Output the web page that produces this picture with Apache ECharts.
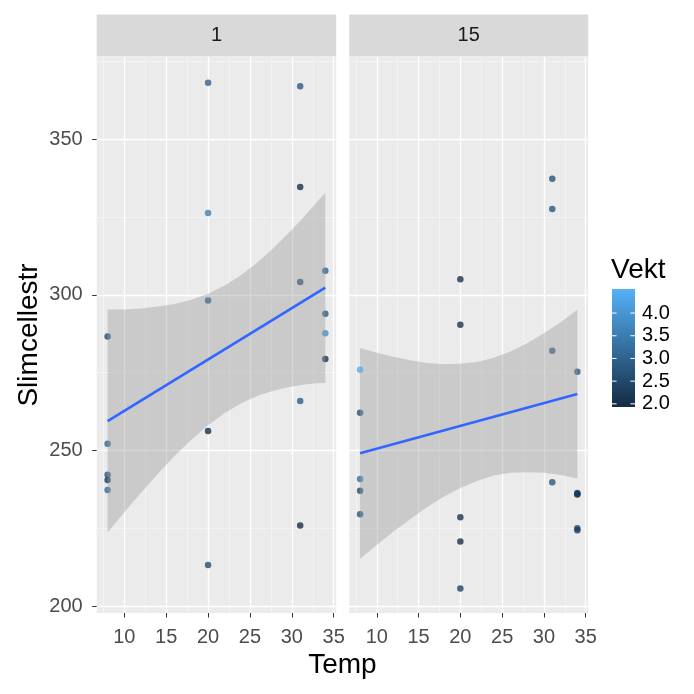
<!DOCTYPE html>
<html><head><meta charset="utf-8">
<script src="https://cdn.jsdelivr.net/npm/echarts@6/dist/echarts.min.js"></script>
<style>html,body{margin:0;padding:0;background:#fff}#c{width:694px;height:694px}</style>
</head><body><div id="c"></div>
<script>
// ---------- data ----------
const panels = ['1', '15'];
const xTicks = [10, 15, 20, 25, 30, 35];
const xMinor = [7.5, 12.5, 17.5, 22.5, 27.5, 32.5];
const yTicks = [200, 250, 300, 350];
const yMinor = [225, 275, 325, 375];
const legendBreaks = [2.0, 2.5, 3.0, 3.5, 4.0];
const legendLabels = ['2.0', '2.5', '3.0', '3.5', '4.0'];

// panel "1"
const temp1 = [8, 8, 8, 8, 8, 20, 20, 20, 20, 20, 31, 31, 31, 31, 31, 34, 34, 34, 34];
const slim1 = [286.6, 252.1, 242.2, 240.5, 237.3, 368.1, 326.3, 298.2, 256.2, 213.2, 367.0, 334.6, 304.1, 265.9, 225.9, 307.7, 293.9, 287.6, 279.4];
const vekt1 = [2.6, 3.1, 2.9, 2.2, 3.2, 3.0, 3.6, 2.7, 2.0, 2.6, 2.9, 2.05, 2.6, 2.9, 2.0, 3.0, 2.8, 3.9, 2.1];

// panel "15"
const temp2 = [8, 8, 8, 8, 8, 20, 20, 20, 20, 20, 31, 31, 31, 31, 34, 34, 34, 34, 34, 34];
const slim2 = [275.9, 262.1, 240.8, 237.0, 229.5, 305.0, 290.4, 228.5, 220.7, 205.6, 337.3, 327.6, 282.0, 239.8, 275.3, 236.3, 235.8, 236.0, 225.0, 224.3];
const vekt2 = [4.5, 2.7, 3.3, 2.6, 2.8, 2.1, 2.1, 2.1, 2.0, 2.4, 2.7, 2.8, 2.9, 2.8, 2.8, 2.2, 2.1, 2.2, 2.4, 2.3];

// fitted lines
const fitT = [8, 34];
const fit1 = [259.4, 302.3];
const fit2 = [249.05, 268.1];

// confidence ribbons
const ribbonT = [8, 10, 12, 14, 16, 18, 20, 22, 24, 26, 28, 30, 32, 34];
const rib1Upper = [295.3, 295.3, 295.6, 296.2, 297.0, 298.4, 300.3, 303.0, 306.4, 310.6, 315.5, 320.9, 326.7, 332.9];
const rib1Lower = [223.6, 230.1, 236.4, 242.5, 248.2, 253.4, 258.1, 262.0, 265.2, 267.6, 269.3, 270.5, 271.3, 271.7];
const rib2Upper = [282.9, 281.4, 280.1, 279.0, 278.1, 277.7, 277.8, 278.4, 279.8, 281.8, 284.4, 287.6, 291.2, 295.2];
const rib2Lower = [215.2, 219.6, 223.9, 227.9, 231.7, 235.1, 237.9, 240.2, 241.9, 242.8, 243.0, 242.8, 242.1, 241.0];

const vektMin = 1.93, vektMax = 4.53;
// ---------- layout ----------
const FONT = '"Liberation Sans", Arial, sans-serif';
const TXT = 20, TITLE = 28;
const G = [
  {left: 96.7, top: 57, width: 239.5, height: 556},
  {left: 349.2, top: 57, width: 239, height: 556}
];
const X_MIN = 6.7, X_MAX = 35.3, Y_MIN = 197.75, Y_MAX = 376.4;

function xMajor(i) {
  return {
    type: 'value', gridIndex: i, min: X_MIN, max: X_MAX, position: 'bottom',
    axisLine: {show: false},
    axisTick: {show: true, customValues: xTicks, length: 4.5, lineStyle: {color: '#333333', width: 1}},
    axisLabel: {show: true, customValues: xTicks, margin: 14, color: '#4D4D4D', fontSize: TXT, fontFamily: FONT},
    splitLine: {show: true, lineStyle: {color: '#FFFFFF', width: 1.3}}
  };
}
function xMinorAxis(i) {
  return {
    type: 'value', gridIndex: i, min: X_MIN, max: X_MAX, position: 'top',
    axisLine: {show: false},
    axisTick: {show: false, customValues: xMinor},
    axisLabel: {show: false, customValues: xMinor},
    splitLine: {show: true, lineStyle: {color: '#F7F7F7', width: 0.7}}
  };
}
function yMajor(i) {
  return {
    type: 'value', gridIndex: i, min: Y_MIN, max: Y_MAX, position: 'left',
    axisLine: {show: false},
    axisTick: {show: i === 0, customValues: yTicks, length: 4.5, lineStyle: {color: '#333333', width: 1}},
    axisLabel: {show: i === 0, customValues: yTicks, margin: 14, color: '#4D4D4D', fontSize: TXT, fontFamily: FONT},
    splitLine: {show: true, lineStyle: {color: '#FFFFFF', width: 1.3}},
    name: i === 0 ? 'Slimcellestr' : '',
    nameLocation: 'middle', nameGap: 53,
    nameTextStyle: {color: '#000000', fontSize: TITLE, fontFamily: FONT}
  };
}
function yMinorAxis(i) {
  return {
    type: 'value', gridIndex: i, min: Y_MIN, max: Y_MAX, position: 'right',
    axisLine: {show: false},
    axisTick: {show: false, customValues: yMinor},
    axisLabel: {show: false, customValues: yMinor},
    splitLine: {show: true, lineStyle: {color: '#F7F7F7', width: 0.7}}
  };
}

function ribbonRender(upper, lower) {
  return function (params, api) {
    if (params.dataIndex !== 0) return;
    const pts = [];
    for (let i = 0; i < ribbonT.length; i++) pts.push(api.coord([ribbonT[i], upper[i]]));
    for (let i = ribbonT.length - 1; i >= 0; i--) pts.push(api.coord([ribbonT[i], lower[i]]));
    return {type: 'polygon', shape: {points: pts}, style: {fill: 'rgba(153,153,153,0.4)'}};
  };
}

const pts1 = temp1.map((t, i) => [t, slim1[i], vekt1[i]]);
const pts2 = temp2.map((t, i) => [t, slim2[i], vekt2[i]]);

// legend geometry
const bar = {x: 612, y: 289, w: 23, h: 118};
function legendY(v) { return bar.y + bar.h - (v - vektMin) / (vektMax - vektMin) * bar.h; }

const graphics = [];
panels.forEach((p, i) => {
  graphics.push({type: 'rect', left: G[i].left, top: 14.5, shape: {width: G[i].width, height: 42}, style: {fill: '#D9D9D9'}, z: 1});
  graphics.push({type: 'text', x: G[i].left + G[i].width / 2, y: 35.5, style: {text: p, fill: '#1A1A1A', font: TXT + 'px ' + FONT, textAlign: 'center', textVerticalAlign: 'middle'}, z: 2});
});
graphics.push({type: 'text', x: (G[0].left + G[1].left + G[1].width) / 2, y: 665, style: {text: 'Temp', fill: '#000000', font: TITLE + 'px ' + FONT, textAlign: 'center', textVerticalAlign: 'middle'}});
graphics.push({type: 'text', x: 611, y: 270, style: {text: 'Vekt', fill: '#000000', font: TITLE + 'px ' + FONT, textAlign: 'left', textVerticalAlign: 'middle'}});
graphics.push({type: 'rect', x: bar.x, y: bar.y, shape: {width: bar.w, height: bar.h},
  style: {fill: new echarts.graphic.LinearGradient(0, 0, 0, 1, [{offset: 0, color: '#56B1F7'}, {offset: 1, color: '#132B43'}])}});
legendBreaks.forEach((b, k) => {
  const y = legendY(b);
  graphics.push({type: 'line', shape: {x1: bar.x, y1: y, x2: bar.x + bar.w / 5, y2: y}, style: {stroke: '#FFFFFF', lineWidth: 1}});
  graphics.push({type: 'line', shape: {x1: bar.x + bar.w * 4 / 5, y1: y, x2: bar.x + bar.w, y2: y}, style: {stroke: '#FFFFFF', lineWidth: 1}});
  graphics.push({type: 'text', x: 642, y: y, style: {text: legendLabels[k], fill: '#000000', font: TXT + 'px ' + FONT, textAlign: 'left', textVerticalAlign: 'middle'}});
});

const option = {
  animation: false,
  backgroundColor: '#FFFFFF',
  grid: G.map(g => Object.assign({show: true, backgroundColor: '#EBEBEB', borderWidth: 0}, g)),
  xAxis: [xMajor(0), xMajor(1), xMinorAxis(0), xMinorAxis(1)],
  yAxis: [yMajor(0), yMajor(1), yMinorAxis(0), yMinorAxis(1)],
  visualMap: {type: 'continuous', show: false, min: vektMin, max: vektMax, dimension: 2, seriesIndex: [0, 1],
    inRange: {color: ['#132B43', '#56B1F7']}},
  series: [
    {type: 'scatter', xAxisIndex: 0, yAxisIndex: 0, data: pts1, symbolSize: 6.5, z: 2},
    {type: 'scatter', xAxisIndex: 1, yAxisIndex: 1, data: pts2, symbolSize: 6.5, z: 2},
    {type: 'custom', xAxisIndex: 0, yAxisIndex: 0, renderItem: ribbonRender(rib1Upper, rib1Lower),
      data: ribbonT.map((t, i) => [t, rib1Lower[i], rib1Upper[i]]), encode: {x: 0, y: [1, 2]}, z: 3, silent: true},
    {type: 'custom', xAxisIndex: 1, yAxisIndex: 1, renderItem: ribbonRender(rib2Upper, rib2Lower),
      data: ribbonT.map((t, i) => [t, rib2Lower[i], rib2Upper[i]]), encode: {x: 0, y: [1, 2]}, z: 3, silent: true},
    {type: 'line', xAxisIndex: 0, yAxisIndex: 0, data: fitT.map((t, i) => [t, fit1[i]]), symbol: 'none',
      lineStyle: {color: '#3366FF', width: 2.6}, z: 4},
    {type: 'line', xAxisIndex: 1, yAxisIndex: 1, data: fitT.map((t, i) => [t, fit2[i]]), symbol: 'none',
      lineStyle: {color: '#3366FF', width: 2.6}, z: 4}
  ],
  graphic: graphics
};
const chart = echarts.init(document.getElementById('c'), null, {renderer: 'canvas'});
chart.setOption(option);
</script></body></html>
